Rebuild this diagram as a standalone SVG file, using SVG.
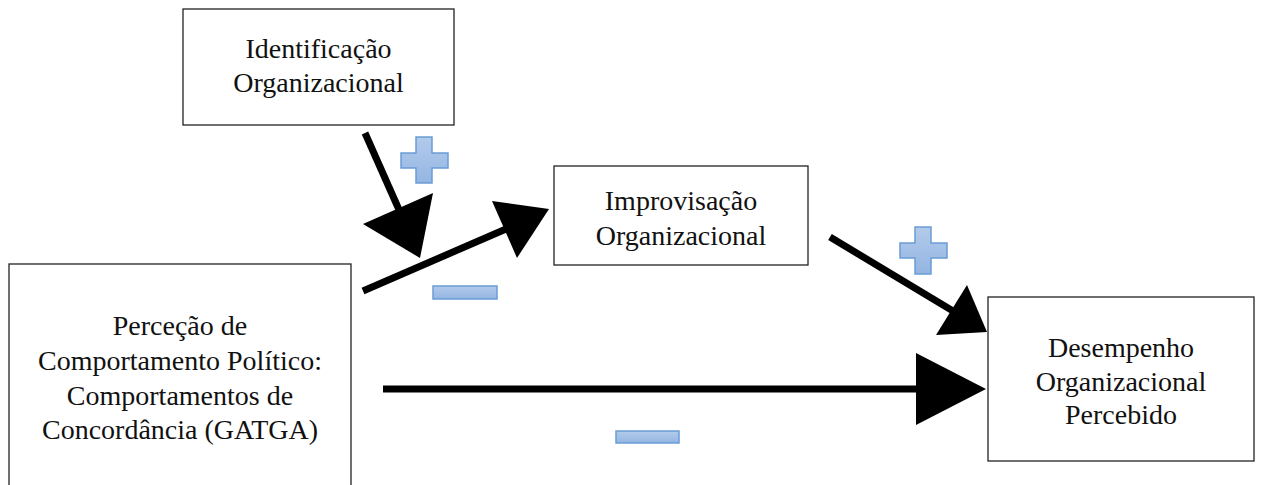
<svg xmlns="http://www.w3.org/2000/svg" width="1264" height="485" viewBox="0 0 1264 485">
<defs>
<linearGradient id="bg" x1="0" y1="0" x2="0" y2="1">
<stop offset="0" stop-color="#b3cbeb"/>
<stop offset="1" stop-color="#93b5e2"/>
</linearGradient>
<style>
.box{fill:#fff;stroke:#222;stroke-width:1.3}
.t{font-family:"Liberation Serif","Times New Roman",serif;font-size:28px;fill:#111;text-anchor:middle}
.ln{stroke:#000;stroke-width:7;fill:none}
.hd{fill:#000}
.sg{fill:url(#bg);stroke:#6a9cd6;stroke-width:1.5}
</style>
</defs>
<rect width="1264" height="485" fill="#fff"/>
<g id="connectors">
<line class="ln" x1="365" y1="133" x2="400" y2="212"/>
<polygon class="hd" points="363,224 433,193 420,258"/>
<line class="ln" x1="363" y1="291" x2="506" y2="229"/>
<polygon class="hd" points="492,201 549,209 517,258"/>
<line class="ln" x1="830" y1="237" x2="953" y2="311"/>
<polygon class="hd" points="967,285 987,332 936,335"/>
<line class="ln" x1="383" y1="389" x2="918" y2="389"/>
<polygon class="hd" points="916,353 986,389 916,425"/>
</g>
<g id="signs">
<path class="sg" d="M416,137 H432 V153 H448 V168 H432 V183 H416 V168 H401 V153 H416 Z"/>
<path class="sg" d="M915,227 H931 V243 H947 V258 H931 V274 H915 V258 H900 V243 H915 Z"/>
<rect class="sg" x="433" y="286" width="64" height="13"/>
<rect class="sg" x="616" y="431" width="63" height="12"/>
</g>
<g id="identificacao">
<rect class="box" x="183" y="9" width="271" height="116"/>
<text class="t" x="318.5" y="58">Identificação</text>
<text class="t" x="318.5" y="92">Organizacional</text>
</g>
<g id="improvisacao">
<rect class="box" x="554" y="166" width="254" height="99"/>
<text class="t" x="681" y="210">Improvisação</text>
<text class="t" x="681" y="245">Organizacional</text>
</g>
<g id="percecao">
<rect class="box" x="9" y="264" width="342" height="230"/>
<text class="t" x="180" y="335">Perceção de</text>
<text class="t" x="180" y="370">Comportamento Político:</text>
<text class="t" x="180" y="405">Comportamentos de</text>
<text class="t" x="180" y="439">Concordância (GATGA)</text>
</g>
<g id="desempenho">
<rect class="box" x="988" y="297" width="266" height="164"/>
<text class="t" x="1121" y="357">Desempenho</text>
<text class="t" x="1121" y="391">Organizacional</text>
<text class="t" x="1121" y="424">Percebido</text>
</g>
</svg>
